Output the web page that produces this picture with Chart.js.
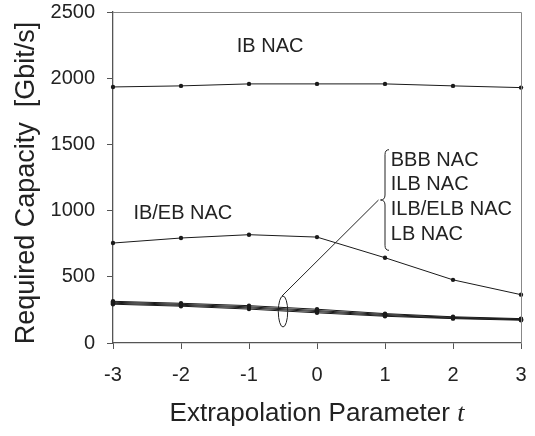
<!DOCTYPE html>
<html>
<head>
<meta charset="utf-8">
<script src="https://cdn.jsdelivr.net/npm/chart.js@4/dist/chart.umd.min.js"></script>
<style>
html,body{margin:0;padding:0;background:#fff;}
#wrap{width:535px;height:436px;position:relative;}
</style>
</head>
<body>
<div id="wrap"><canvas id="c" width="535" height="436"></canvas></div>
<script>
// ---- data ----
const categories = [-3, -2, -1, 0, 1, 2, 3];
const ibNac      = [1934, 1942, 1957, 1957, 1957, 1942, 1929];
const ibEbNac    = [755, 793, 818, 800, 644, 477, 365];
const bbbNac     = [315, 300, 282, 255, 222, 198, 184];
const ilbNac     = [308, 292, 273, 245, 215, 193, 180];
const ilbElbNac  = [300, 285, 265, 237, 208, 188, 176];
const lbNac      = [293, 278, 256, 228, 202, 184, 172];
const yTicks     = [0, 500, 1000, 1500, 2000, 2500];
const seriesNames = ['IB NAC', 'IB/EB NAC', 'BBB NAC', 'ILB NAC', 'ILB/ELB NAC', 'LB NAC'];
const groupLabels = ['BBB NAC', 'ILB NAC', 'ILB/ELB NAC', 'LB NAC'];
const xTitle = 'Extrapolation Parameter';
const xTitleVar = 't';
const yTitle = 'Required Capacity  [Gbit/s]';

const allSeries = [ibNac, ibEbNac, bbbNac, ilbNac, ilbElbNac, lbNac];
const FONT = "'Liberation Sans', Arial, sans-serif";
const INK = '#222';

const datasets = allSeries.map((vals, i) => ({
  label: seriesNames[i],
  data: categories.map((c, j) => ({x: c, y: vals[j]})),
  borderColor: '#1a1a1a',
  backgroundColor: '#1a1a1a',
  borderWidth: 1,
  pointRadius: 2.2,
  pointBorderWidth: 0,
  pointBackgroundColor: '#1a1a1a',
  tension: 0,
  clip: false
}));

const annot = {
  id: 'annot',
  afterDatasetsDraw(chart) {
    const {ctx, chartArea: a, scales: {x, y}} = chart;
    ctx.save();
    // frame top & right
    ctx.strokeStyle = '#888';
    ctx.lineWidth = 1;
    ctx.beginPath();
    ctx.moveTo(a.left, a.top + 0.5);
    ctx.lineTo(a.right + 0.5, a.top + 0.5);
    ctx.lineTo(a.right + 0.5, a.bottom);
    ctx.stroke();

    ctx.fillStyle = INK;
    ctx.font = '20px ' + FONT;
    ctx.textBaseline = 'middle';
    ctx.textAlign = 'left';
    ctx.fillText(seriesNames[0], x.getPixelForValue(-1.18), y.getPixelForValue(2240));
    ctx.fillText(seriesNames[1], x.getPixelForValue(-2.70), y.getPixelForValue(980));
    const lx = x.getPixelForValue(1.085);
    const ly0 = y.getPixelForValue(1381);
    const ly1 = y.getPixelForValue(821);
    groupLabels.forEach((t, i) => {
      ctx.fillText(t, lx, ly0 + (ly1 - ly0) * i / (groupLabels.length - 1));
    });

    // ellipse around the bundle
    const ex = x.getPixelForValue(-0.5), ey = y.getPixelForValue(238);
    ctx.strokeStyle = '#222';
    ctx.lineWidth = 1;
    ctx.beginPath();
    ctx.ellipse(ex, ey, 4.7, 15.5, 0, 0, Math.PI * 2);
    ctx.stroke();

    // brace
    const bTop = y.getPixelForValue(1460), bBot = y.getPixelForValue(700);
    const bMid = (bTop + bBot) / 2;
    const bx = x.getPixelForValue(1.0);  // brace body x
    const tipX = bx - 4.5;
    ctx.beginPath();
    ctx.moveTo(bx + 4, bTop);
    ctx.quadraticCurveTo(bx, bTop, bx, bTop + 5);
    ctx.lineTo(bx, bMid - 5);
    ctx.quadraticCurveTo(bx, bMid, tipX, bMid);
    ctx.quadraticCurveTo(bx, bMid, bx, bMid + 5);
    ctx.lineTo(bx, bBot - 5);
    ctx.quadraticCurveTo(bx, bBot, bx + 4, bBot);
    ctx.stroke();

    // leader line from ellipse to brace tip
    ctx.beginPath();
    ctx.moveTo(ex - 1, ey - 15.5);
    ctx.lineTo(tipX - 2, bMid);
    ctx.stroke();

    // x-axis title with italic variable
    ctx.font = '26px ' + FONT;
    const w1 = ctx.measureText(xTitle + ' ').width;
    ctx.font = 'italic 26px "Liberation Serif", "Times New Roman", serif';
    const w2 = ctx.measureText(xTitleVar).width;
    const cx = (a.left + a.right) / 2;
    const ty = 414;
    let sx = cx - (w1 + w2) / 2;
    ctx.textAlign = 'left';
    ctx.font = '26px ' + FONT;
    ctx.fillText(xTitle + ' ', sx, ty);
    ctx.font = 'italic 26px "Liberation Serif", "Times New Roman", serif';
    ctx.fillText(xTitleVar, sx + w1, ty);

    // y-axis title
    ctx.save();
    ctx.translate(27, 183);
    ctx.rotate(-Math.PI / 2);
    ctx.textAlign = 'center';
    ctx.font = '27px ' + FONT;
    ctx.fillText(yTitle, 0, 0);
    ctx.restore();
    ctx.restore();
  }
};

new Chart(document.getElementById('c'), {
  type: 'line',
  data: {datasets},
  options: {
    responsive: false,
    animation: false,
    devicePixelRatio: 1,
    layout: {padding: {top: 12, right: 14, left: 0, bottom: 0}},
    plugins: {legend: {display: false}, tooltip: {enabled: false}},
    scales: {
      x: {
        type: 'linear',
        min: categories[0],
        max: categories[categories.length - 1],
        afterFit: s => { s.height = 93; s.paddingLeft = 0; s.paddingRight = 0; },
        afterBuildTicks: s => { s.ticks = categories.map(v => ({value: v})); },
        grid: {drawOnChartArea: false, drawTicks: true, tickLength: 6, color: '#555'},
        border: {display: true, color: '#555', width: 1.3},
        ticks: {color: INK, font: {family: FONT, size: 20}, padding: 14, maxRotation: 0,
                callback: v => String(v)}
      },
      y: {
        min: yTicks[0],
        max: yTicks[yTicks.length - 1],
        afterFit: s => { s.width = 113; s.paddingTop = 0; s.paddingBottom = 0; },
        afterBuildTicks: s => { s.ticks = yTicks.map(v => ({value: v})); },
        grid: {drawOnChartArea: false, drawTicks: true, tickLength: 6, color: '#555'},
        border: {display: true, color: '#555', width: 1.3},
        ticks: {color: INK, font: {family: FONT, size: 20}, padding: 12,
                callback: v => String(v)},
        title: {display: false, text: yTitle}
      }
    }
  },
  plugins: [annot]
});
</script>
</body>
</html>
